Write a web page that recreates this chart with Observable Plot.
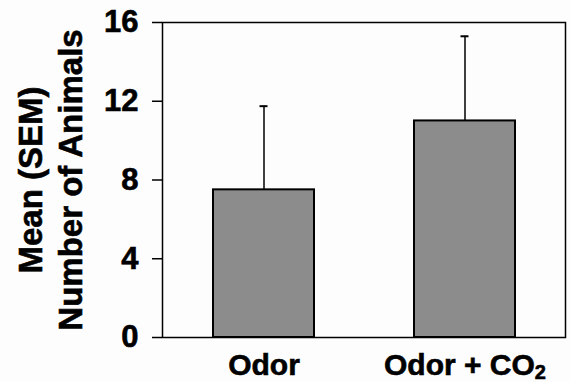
<!DOCTYPE html>
<html><head><meta charset="utf-8">
<script src="https://cdn.jsdelivr.net/npm/d3@7"></script>
<script src="https://cdn.jsdelivr.net/npm/@observablehq/plot@0.6"></script>
<style>body{margin:0;background:#fdfdfd}</style>
</head><body><div id="chart"></div>
<script>
const categories = ["Odor", "Odor + CO2"];
const means = [7.5, 11.0];
const sems = [4.25, 4.3];
const yTicks = [0, 4, 8, 12, 16];
const yLabelLines = ["Mean (SEM)", "Number of Animals"];

const data = categories.map((c, i) => ({category: c, mean: means[i], top: means[i] + sems[i]}));
const font = "'Liberation Sans', Arial, Helvetica, sans-serif";

const chart = Plot.plot({
  width: 570, height: 382,
  marginLeft: 162, marginRight: 5, marginTop: 22, marginBottom: 45,
  style: {fontFamily: font, fontWeight: "bold", fontSize: "28px", background: "#fdfdfd", color: "black"},
  x: {domain: categories, paddingInner: 0.5, paddingOuter: 0.25, label: null},
  y: {domain: [0, 16], label: null},
  marks: [
    Plot.barY(data, {x: "category", y: "mean", fill: "#8c8c8c", stroke: "black", strokeWidth: 2}),
    Plot.ruleX(data, {x: "category", y1: "mean", y2: "top", stroke: "black", strokeWidth: 1.5}),
    Plot.tickY(data, {x: "category", y: "top", stroke: "black", strokeWidth: 2, insetLeft: 46.5, insetRight: 46.5}),
    Plot.frame({stroke: "black", strokeWidth: 1.5}),
    Plot.axisY({ticks: yTicks, tickSize: 10, tickPadding: 14, fontSize: 31, label: null, strokeWidth: 1.5}),
    Plot.axisX({tickSize: 0, tickPadding: 16, fontSize: 30, label: null}),
    Plot.text([yLabelLines[0]], {text: d => d, y: [8], frameAnchor: "left", dx: -130.6, rotate: -90, textAnchor: "middle", fontSize: 33, fontWeight: "bold"}),
    Plot.text([yLabelLines[1]], {text: d => d, y: [8], frameAnchor: "left", dx: -90.6, rotate: -90, textAnchor: "middle", fontSize: 33, fontWeight: "bold"})
  ]
});
document.getElementById("chart").appendChild(chart);

// enforce label sizes and a slightly heavier type
d3.select(chart).selectAll('g[aria-label="y-axis tick label"]').attr("font-size", 31);
d3.select(chart).selectAll('g[aria-label="x-axis tick label"]').attr("font-size", 30);
d3.select(chart).selectAll("text").attr("stroke", "black").attr("stroke-width", 0.6);

// subscript the "2" of CO2 in the x tick label
chart.querySelectorAll("text").forEach(t => {
  if (t.textContent === "Odor + CO2") {
    t.textContent = "";
    const ns = "http://www.w3.org/2000/svg";
    const a = document.createElementNS(ns, "tspan");
    a.textContent = "Odor + CO";
    const b = document.createElementNS(ns, "tspan");
    b.textContent = "2";
    b.setAttribute("font-size", "20");
    b.setAttribute("dy", "4");
    t.appendChild(a); t.appendChild(b);
  }
});
</script>
</body></html>
